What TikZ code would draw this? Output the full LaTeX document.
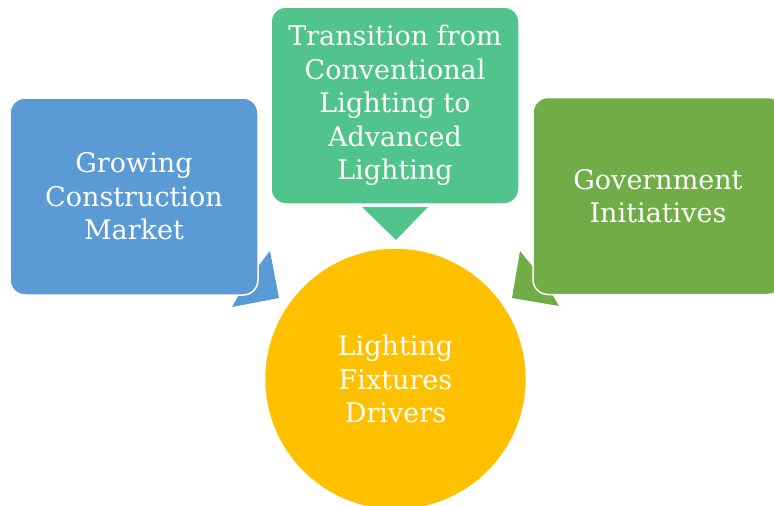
\documentclass[tikz,border=0pt]{standalone}
\usepackage{fontspec}
\setmainfont{DejaVu Serif}
\definecolor{growBlue}{HTML}{5B9BD5}
\definecolor{transGreen}{HTML}{50C48B}
\definecolor{govGreen}{HTML}{70AD47}
\definecolor{driverGold}{HTML}{FFC000}
\begin{document}
\begin{tikzpicture}[x=1pt,y=1pt]
\tikzstyle{every node}+=[inner sep=0pt]
\tikzstyle{box}=[draw=white,line width=1.5pt,rounded corners=15pt,minimum width=248pt,minimum height=197pt,text=white,align=center,font=\fontsize{27}{33.5}\selectfont]
\useasboundingbox (0,0) rectangle (774,-506);
\clip (0,0) rectangle (774,-506);
% pointers, drawn first so the boxes sit on top
\fill [growBlue] (270,-251) -- (279,-298) -- (232,-307) -- (246,-282) -- cycle;
\fill [govGreen] (520,-251) -- (512,-298) -- (559,-306) -- (545,-282) -- cycle;
\fill [transGreen] (362,-207) -- (428,-207) -- (396,-240) -- cycle;
% boxes
\node [box,fill=growBlue] (market) at (134,-196.5) {Growing\\Construction\\Market};
\node [box,fill=transGreen] (transition) at (395,-105.5) {Transition from\\Conventional\\Lighting to\\Advanced\\Lighting};
\node [box,fill=govGreen,minimum width=250pt] (government) at (658,-196) {Government\\Initiatives};
% centre
\node [circle,draw=white,line width=1.5pt,fill=driverGold,minimum size=262pt,text=white,align=center,font=\fontsize{27}{33.5}\selectfont] (drivers) at (395.5,-379) {Lighting\\Fixtures\\Drivers};
\end{tikzpicture}
\end{document}
